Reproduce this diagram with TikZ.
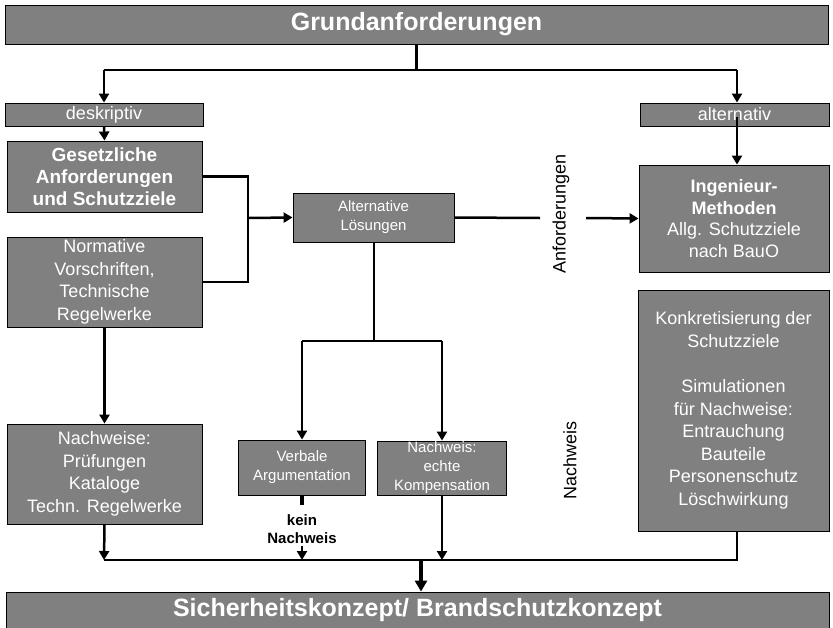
\documentclass[tikz,border=0pt]{standalone}
\usepackage{fontspec}
\setmainfont{Liberation Sans}
\usetikzlibrary{arrows.meta}
\definecolor{boxgray}{HTML}{808080}
\begin{document}
\begin{tikzpicture}[x=1pt,y=-1pt,
  box/.style={draw=black, line width=0.9pt, fill=boxgray, text=white, inner sep=0pt, align=center},
  big/.style={font=\fontsize{25}{28}\selectfont\bfseries},
  mid/.style={font=\fontsize{18}{22.6}\selectfont},
  midb/.style={font=\fontsize{19}{22}\selectfont\bfseries},
  small/.style={font=\fontsize{15}{19}\selectfont},
  conn/.style={line width=2.5pt, -{Triangle[length=9pt,width=10pt]}},
  plain/.style={line width=2.5pt}]
\useasboundingbox (0,0) rectangle (833,627);

% boxes
\node[box, big, minimum width=823pt, minimum height=39pt] (top) at (416.5,24.5) {Grundanforderungen};
\node[box, mid, minimum width=198pt, minimum height=23pt] (desk) at (104,114.5) {deskriptiv};
\node[box, mid, minimum width=189pt, minimum height=23pt] (alt) at (734.5,114.5) {alternativ};
\node[box, midb, minimum width=195pt, minimum height=71pt] (ges) at (104.5,176.5) {Gesetzliche\\Anforderungen\\und Schutzziele};
\node[box, mid, minimum width=195pt, minimum height=90pt] (norm) at (104.5,282) {Normative\\Vorschriften,\\Technische\\Regelwerke};
\node[box, small, minimum width=161pt, minimum height=49pt] (loes) at (373.5,217.5) {Alternative\\Lösungen};
\node[box, mid, font=\fontsize{18}{21.5}\selectfont, minimum width=190pt, minimum height=107pt] (ing) at (734,218.5) {\textbf{Ingenieur-}\\\textbf{Methoden}\\Allg. Schutzziele\\nach BauO};
\node[box, mid, minimum width=191pt, minimum height=241pt] (konk) at (733.5,410.5) {Konkretisierung der\\Schutzziele\\[22.6pt]Simulationen\\für Nachweise:\\Entrauchung\\Bauteile\\Personenschutz\\Löschwirkung};
\node[box, mid, minimum width=195pt, minimum height=100pt] (nachw) at (104.5,474) {Nachweise:\\Prüfungen\\Kataloge\\Techn. Regelwerke};
\node[box, small, minimum width=127pt, minimum height=55pt] (verb) at (302,467.5) {Verbale\\Argumentation};
\node[box, small, minimum width=129pt, minimum height=54pt] (komp) at (442,468) {Nachweis:\\echte\\Kompensation};
\node[box, big, minimum width=823pt, minimum height=36pt] (bot) at (417.5,610) {Sicherheitskonzept/ Brandschutzkonzept};

% labels
\node[mid, rotate=90] (anf) at (561,214) {Anforderungen};
\node[mid, rotate=90] (nwl) at (570,460) {Nachweis};
\node[font=\fontsize{15}{17.5}\selectfont\bfseries, align=center, inner sep=0pt] (kein) at (302,529) {kein\\Nachweis};

% coordinates
\coordinate (tj) at (416.5,70);
\coordinate (tl) at (104,70);
\coordinate (tr) at (737,70);
\coordinate (altin) at (737,117);
\coordinate (gj) at (248,218);
\coordinate (a1) at (540,218);
\coordinate (a2) at (586,218);
\coordinate (lj) at (374,341);
\coordinate (vl) at (302,341);
\coordinate (kr) at (442,341);
\coordinate (vs) at (302,505);
\coordinate (vk) at (302,546);
\coordinate (bl) at (104,560);
\coordinate (br) at (737,560);
\coordinate (bm) at (421,560);

% connectors
\draw[plain] (top.south) -- (tj);
\draw[plain] (tl) -- (tr);
\draw[conn] (tl) -- (desk.north);
\draw[conn] (tr) -- (tr |- alt.north);
\draw[conn] (desk.south) -- (ges.north);
\draw[conn] (altin) -- (altin |- ing.north);
\draw[plain] (ges.east) -- (ges.east -| gj) -- (norm.east -| gj) -- (norm.east);
\draw[conn] (gj) -- (loes.west);
\draw[plain] (loes.east) -- (a1);
\draw[conn] (a2) -- (ing.west);
\draw[plain] (loes.south -| lj) -- (lj);
\draw[plain] (vl) -- (kr);
\draw[conn] (vl) -- (verb.north);
\draw[conn] (kr) -- (komp.north);
\draw[conn] (norm.south) -- (nachw.north);
\draw[line width=2pt] (bl) -- (br) -- (br |- konk.south);
\draw[conn] (nachw.south) -- (bl);
\draw[conn] (komp.south) -- (komp.south |- bl);
\draw[line width=3.5pt] (verb.south) -- (vs);
\draw[conn] (vk) -- (vk |- bl);
\draw[line width=4pt, -{Triangle[length=11pt,width=12pt]}] (bm) -- (bm |- bot.north);
\end{tikzpicture}
\end{document}
